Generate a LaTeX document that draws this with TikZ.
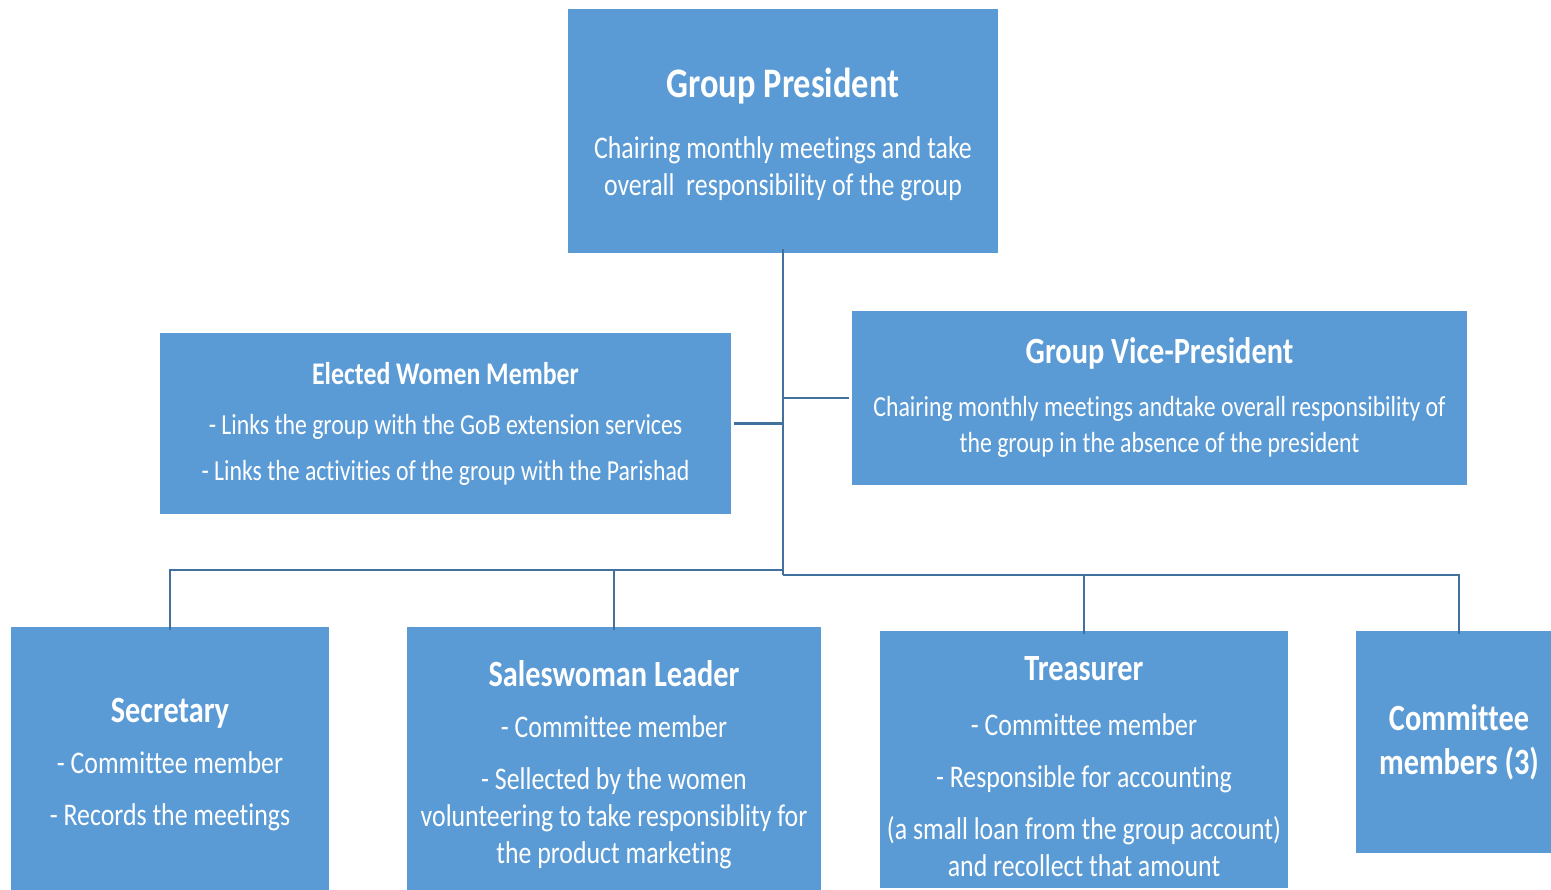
\documentclass[tikz,border=0pt]{standalone}
\usepackage{fontspec}
\setmainfont{Carlito}[FakeStretch=0.82,Ligatures=NoCommon]
\definecolor{boxblue}{HTML}{5B9BD5}
\definecolor{linkblue}{HTML}{41719C}
\newcommand{\ttl}[1]{{\fontsize{37}{44}\selectfont\bfseries #1}}
\begin{document}
\begin{tikzpicture}[x=1pt,y=-1pt,
    box/.style={fill=boxblue,text=white,align=center,inner sep=0pt,
      font=\fontsize{31.5}{37}\selectfont},
    smallbox/.style={box,font=\fontsize{29}{36}\selectfont},
    link/.style={draw=linkblue,line width=2.5pt}]
    \useasboundingbox (0,0) rectangle (1551,890);

    % boxes
    \node[box,minimum width=430pt,minimum height=244pt] (pres) at (783,131)
      {\rule{0pt}{36pt}{\fontsize{42}{48}\selectfont\bfseries Group President}\\[24pt]
       Chairing monthly meetings  and take\\
       overall \ responsibility of the group};
    \node[smallbox,minimum width=571pt,minimum height=181pt] (ewm) at (445.5,423.5)
      {{\fontsize{31.5}{40}\selectfont\bfseries Elected Women Member}\\[14pt]
       - Links the group with the GoB extension services\\[10pt]
       - Links the activities of the group with the Parishad};
    \node[smallbox,minimum width=615pt,minimum height=174pt] (vp) at (1159.5,398)
      {\ttl{Group Vice-President}\\[17pt]
       Chairing monthly meetings andtake overall responsibility of\\
       the group in the absence of the president};
    \node[box,minimum width=318pt,minimum height=275pt] (sec) at (170,764.5)
      {\ttl{Secretary}\\[14pt]
       - Committee member\\[15pt]
       - Records the meetings};
    \node[box,minimum width=414pt,minimum height=275pt] (sales) at (614,764.5)
      {\ttl{Saleswoman Leader}\\[14pt]
       - Committee member\\[15pt]
       - Sellected by the women\\
       volunteering to take responsiblity for\\
       the product marketing};
    \node[box,minimum width=408pt,minimum height=257pt] (treas) at (1084,759.5)
      {\rule{0pt}{38pt}\ttl{Treasurer}\\[18pt]
       - Committee member\\[15pt]
       - Responsible for accounting\\[15pt]
       (a small loan from the group account)\\
       and recollect that amount};
    \node[box,minimum width=206pt,minimum height=222pt] (cm) at (1459,742)
      {\ttl{Committee}\\[7pt]\ttl{members (3)}};

    % connectors
    \coordinate (busL) at (783,570);
    \coordinate (busR) at (783,575);
    \draw[link] ([yshift=4pt]pres.south) -- (busR);
    \draw[link] ([xshift=3pt]ewm.east) -- (ewm.east -| pres.south);
    \draw[link] ([xshift=-3pt]vp.west) -- (vp.west -| pres.south);
    \draw[link] ([yshift=-3pt]sec.north) |- (busL);
    \draw[link] ([yshift=-3pt]sales.north) -- (sales.north |- busL);
    \draw[link] (busR) -| ([yshift=-3pt]treas.north);
    \draw[link] (busR) -| ([yshift=-3pt]cm.north);
\end{tikzpicture}
\end{document}
